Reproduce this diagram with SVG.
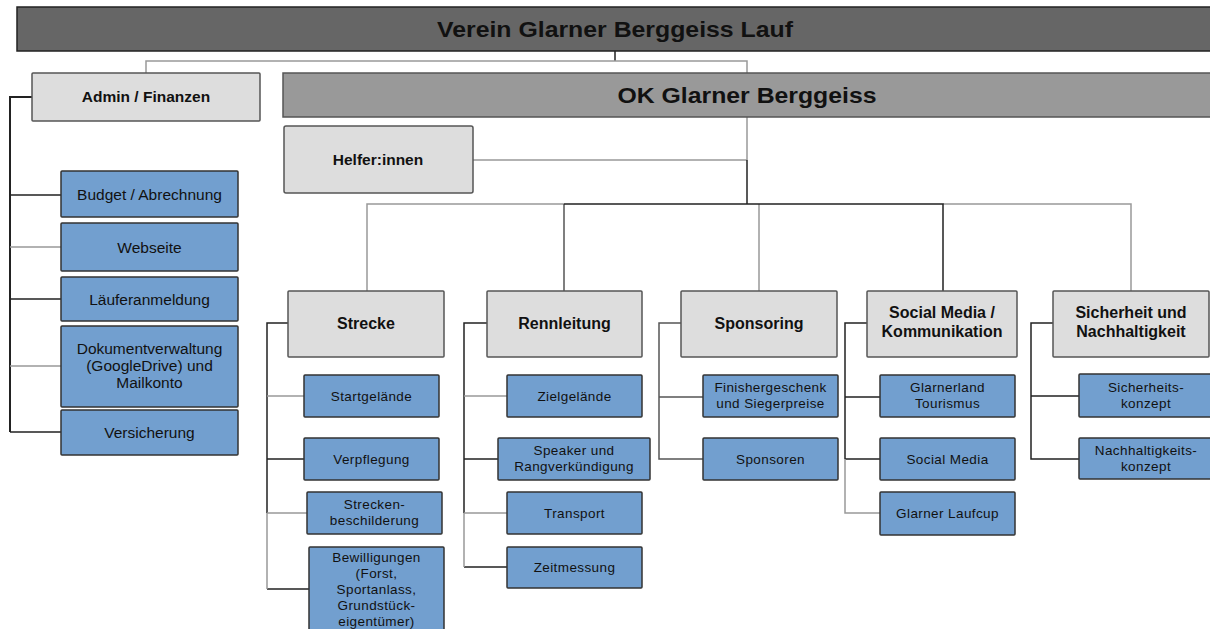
<svg xmlns="http://www.w3.org/2000/svg" width="1210" height="629" viewBox="0 0 1210 629">
<style>
.bg{fill:#ffffff}
.top{fill:#666666;stroke:#222;stroke-width:1.5}
.ok{fill:#999999;stroke:#555;stroke-width:1.5}
.hd{fill:#dddddd;stroke:#555;stroke-width:1.5}
.bl{fill:#729fcf;stroke:#333;stroke-width:1.5}
.d{stroke:#222;stroke-width:1.5;fill:none}
.l{stroke:#999;stroke-width:1.5;fill:none}
.m{stroke:#555;stroke-width:1.5;fill:none}
text{font-family:"Liberation Sans",Arial,sans-serif;text-anchor:middle;fill:#111}
.tt{font-size:22px;font-weight:bold}
.h{font-size:15.5px;font-weight:bold}
.hs{font-size:16px;font-weight:bold}
.a{font-size:15.5px}
.t{font-size:13.5px;letter-spacing:0.4px}
</style>
<rect class="bg" x="0" y="0" width="1210" height="629"/>
<g id="connectors">
<path class="d" d="M615 51V61"/>
<path class="l" d="M146 73V61H747V73"/>
<path class="d" d="M32 97H10V432" style="stroke-width:2"/>
<path class="d" d="M10 195H61M10 299H61M10 432H61"/>
<path class="l" d="M10 247H61M10 366H61"/>
<path class="l" d="M747 117V160M473 160H747"/>
<path class="d" d="M747 160V204"/>
<path class="l" d="M367 291V204H564M943 204H1131V291M759 204V291"/>
<path class="m" d="M564 204V291"/>
<path class="d" d="M564 204H943V291"/>
<path class="d" d="M288 323H267V513M267 459H304M267 589H309"/>
<path class="l" d="M267 513V589M267 396H304M267 513H307"/>
<path class="d" d="M487 323H464V513M464 459H498M464 567H507"/>
<path class="l" d="M464 513V567M464 396H507M464 513H507"/>
<path class="m" d="M681 323H659V459H703M659 397H703"/>
<path class="d" d="M867 323H845V459M845 397H880M845 459H880"/>
<path class="l" d="M845 459V513H880"/>
<path class="d" d="M1053 323H1031V459H1079M1031 396H1079"/>
</g>
<g id="verein"><rect class="top" x="17" y="7" width="1200" height="44"/><text class="tt" x="615" y="37" textLength="356" lengthAdjust="spacingAndGlyphs">Verein Glarner Berggeiss Lauf</text></g>
<g id="admin"><rect class="hd" x="32" y="73" width="228" height="48" rx="1"/><text class="h" x="146" y="102">Admin / Finanzen</text></g>
<g id="ok"><rect class="ok" x="283" y="73" width="935" height="44"/><text class="tt" x="747" y="103" textLength="259" lengthAdjust="spacingAndGlyphs">OK Glarner Berggeiss</text></g>
<g id="helfer"><rect class="hd" x="284" y="126" width="189" height="67" rx="2"/><text class="h" x="378" y="165">Helfer:innen</text></g>
<g id="budget"><rect class="bl" x="61" y="171" width="177" height="46" rx="1"/><text class="a" x="149.5" y="200">Budget / Abrechnung</text></g>
<g id="webseite"><rect class="bl" x="61" y="223" width="177" height="48" rx="1"/><text class="a" x="149.5" y="253">Webseite</text></g>
<g id="laeufer"><rect class="bl" x="61" y="277" width="177" height="44" rx="1"/><text class="a" x="149.5" y="305">Läuferanmeldung</text></g>
<g id="dokument"><rect class="bl" x="61" y="326" width="177" height="81" rx="1"/><text class="a" x="149.5" y="354">Dokumentverwaltung</text><text class="a" x="149.5" y="371">(GoogleDrive) und</text><text class="a" x="149.5" y="388">Mailkonto</text></g>
<g id="versicherung"><rect class="bl" x="61" y="410" width="177" height="45" rx="1"/><text class="a" x="149.5" y="438">Versicherung</text></g>
<g id="strecke"><rect class="hd" x="288" y="291" width="156" height="66" rx="1"/><text class="hs" x="366" y="329">Strecke</text></g>
<g id="rennleitung"><rect class="hd" x="487" y="291" width="155" height="66" rx="1"/><text class="hs" x="564.5" y="329">Rennleitung</text></g>
<g id="sponsoring"><rect class="hd" x="681" y="291" width="156" height="66" rx="1"/><text class="hs" x="759" y="329">Sponsoring</text></g>
<g id="social"><rect class="hd" x="867" y="291" width="150" height="66" rx="1"/><text class="hs" x="942" y="318">Social Media /</text><text class="hs" x="942" y="337">Kommunikation</text></g>
<g id="sicherheit"><rect class="hd" x="1053" y="291" width="156" height="66" rx="1"/><text class="hs" x="1131" y="318">Sicherheit und</text><text class="hs" x="1131" y="337">Nachhaltigkeit</text></g>
<g id="startgelaende"><rect class="bl" x="304" y="375" width="135" height="42" rx="1"/><text class="t" x="371.5" y="401">Startgelände</text></g>
<g id="verpflegung"><rect class="bl" x="304" y="438" width="135" height="42" rx="1"/><text class="t" x="371.5" y="464">Verpflegung</text></g>
<g id="beschilderung"><rect class="bl" x="307" y="492" width="135" height="42" rx="1"/><text class="t" x="374.5" y="509">Strecken-</text><text class="t" x="374.5" y="525">beschilderung</text></g>
<g id="bewilligungen"><rect class="bl" x="309" y="547" width="135" height="95" rx="1"/><text class="t" x="376.5" y="562">Bewilligungen</text><text class="t" x="376.5" y="578">(Forst,</text><text class="t" x="376.5" y="594">Sportanlass,</text><text class="t" x="376.5" y="610">Grundstück-</text><text class="t" x="376.5" y="626">eigentümer)</text></g>
<g id="zielgelaende"><rect class="bl" x="507" y="375" width="135" height="42" rx="1"/><text class="t" x="574.5" y="401">Zielgelände</text></g>
<g id="speaker"><rect class="bl" x="498" y="438" width="152" height="42" rx="1"/><text class="t" x="574" y="455">Speaker und</text><text class="t" x="574" y="471">Rangverkündigung</text></g>
<g id="transport"><rect class="bl" x="507" y="492" width="135" height="42" rx="1"/><text class="t" x="574.5" y="518">Transport</text></g>
<g id="zeitmessung"><rect class="bl" x="507" y="547" width="135" height="41" rx="1"/><text class="t" x="574.5" y="572">Zeitmessung</text></g>
<g id="finisher"><rect class="bl" x="703" y="375" width="135" height="42" rx="1"/><text class="t" x="770.5" y="392">Finishergeschenk</text><text class="t" x="770.5" y="408">und Siegerpreise</text></g>
<g id="sponsoren"><rect class="bl" x="703" y="438" width="135" height="42" rx="1"/><text class="t" x="770.5" y="464">Sponsoren</text></g>
<g id="glarnerland"><rect class="bl" x="880" y="375" width="135" height="42" rx="1"/><text class="t" x="947.5" y="392">Glarnerland</text><text class="t" x="947.5" y="408">Tourismus</text></g>
<g id="socialmedia"><rect class="bl" x="880" y="438" width="135" height="42" rx="1"/><text class="t" x="947.5" y="464">Social Media</text></g>
<g id="laufcup"><rect class="bl" x="880" y="492" width="135" height="43" rx="1"/><text class="t" x="947.5" y="518">Glarner Laufcup</text></g>
<g id="sicherheitskonzept"><rect class="bl" x="1079" y="374" width="140" height="43" rx="1"/><text class="t" x="1146" y="392">Sicherheits-</text><text class="t" x="1146" y="408">konzept</text></g>
<g id="nachhaltigkeitskonzept"><rect class="bl" x="1079" y="438" width="140" height="41" rx="1"/><text class="t" x="1146" y="455">Nachhaltigkeits-</text><text class="t" x="1146" y="471">konzept</text></g>
</svg>
